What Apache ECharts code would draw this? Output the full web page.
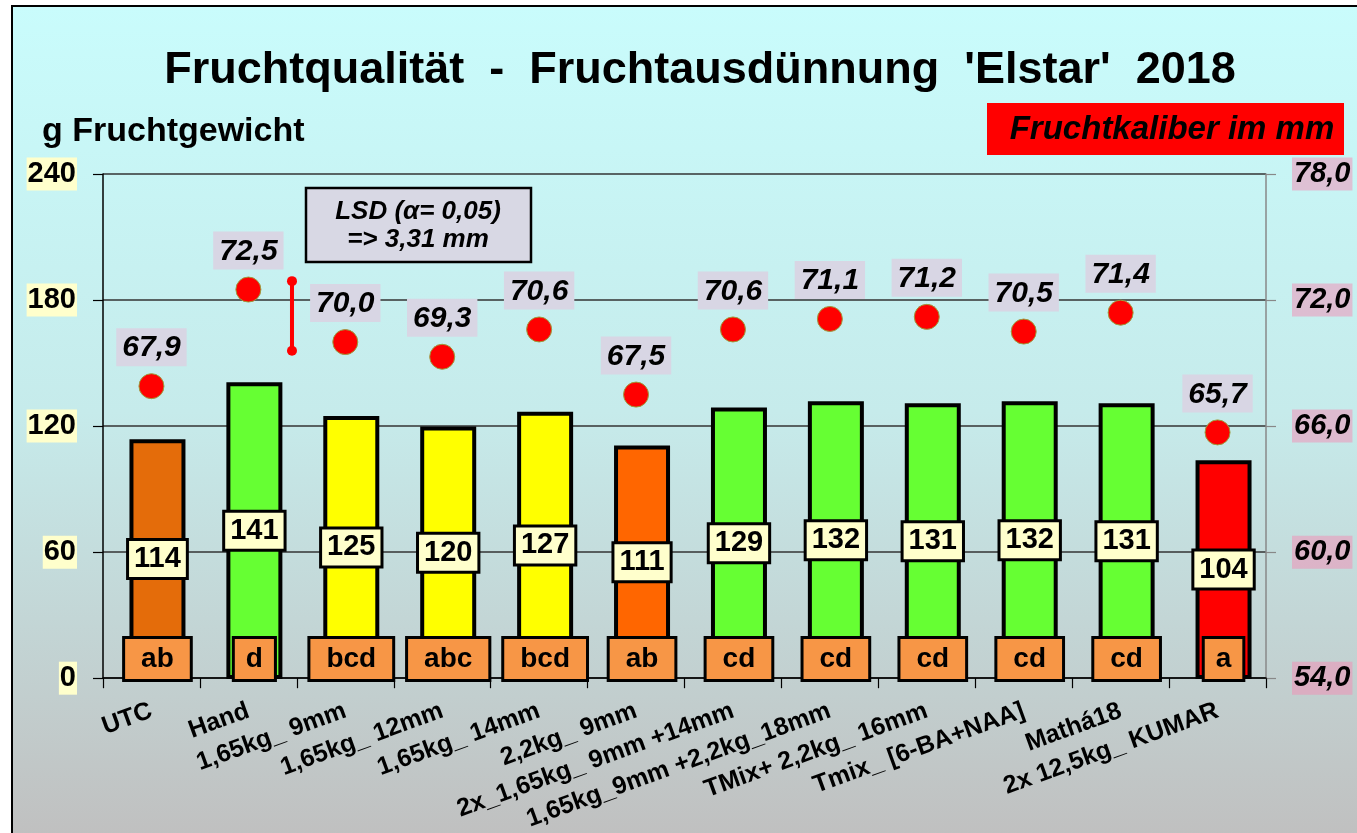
<!DOCTYPE html>
<html>
<head>
<meta charset="utf-8">
<script src="https://cdn.jsdelivr.net/npm/echarts@6/dist/echarts.min.js"></script>
<style>
html,body{margin:0;padding:0;background:#fff;}
#chart{width:1357px;height:833px;}
</style>
</head>
<body>
<div id="chart"></div>
<script>
const categories = ['UTC','Hand','1,65kg_ 9mm','1,65kg_ 12mm','1,65kg_ 14mm','2,2kg_ 9mm','2x_1,65kg_ 9mm +14mm','1,65kg_9mm +2,2kg_18mm','TMix+ 2,2kg_ 16mm','Tmix_ [6-BA+NAA]','Mathá18','2x 12,5kg_ KUMAR'];
const fruitWeight = [114,141,125,120,127,111,129,132,131,132,131,104];
const significance = ['ab','d','bcd','abc','bcd','ab','cd','cd','cd','cd','cd','a'];
const fruitCaliber = [67.9,72.5,70.0,69.3,70.6,67.5,70.6,71.1,71.2,70.5,71.4,65.7];
const weightTicks = {min:0, max:240, interval:60};
const caliberTicks = {min:54, max:78, interval:6};
const lsdValue = 3.31;
const lsdTop = 72.9;
const lsdPos = 1.95;
const barColors = ['#E46C0A','#66FF33','#FFFF00','#FFFF00','#FFFF00','#FF6600','#66FF33','#66FF33','#66FF33','#66FF33','#66FF33','#FF0000'];

const FF = '"Liberation Sans", Arial, sans-serif';
const comma = v => v.toFixed(1).replace('.', ',');

const chart = echarts.init(document.getElementById('chart'), null, {renderer:'canvas'});
const option = {
  animation: false,
  backgroundColor: '#ffffff',
  textStyle: {fontFamily: FF},
  graphic: [
    {type:'rect', z:-10, shape:{x:12,y:6,width:1400,height:900},
     style:{fill:{type:'linear',x:0,y:0,x2:0,y2:1,colorStops:[{offset:0,color:'#C9FCFC'},{offset:0.45,color:'#C6EBEB'},{offset:0.92,color:'#C0C0C0'},{offset:1,color:'#C0C0C0'}]}, stroke:'#000', lineWidth:2}},
    {type:'text', x:700, y:71, style:{text:"Fruchtqualität  -  Fruchtausdünnung  'Elstar'  2018", font:'bold 45px '+FF, fill:'#000', align:'center', verticalAlign:'middle'}},
    {type:'text', x:42, y:132, style:{text:'g Fruchtgewicht', font:'bold 34px '+FF, fill:'#000', align:'left', verticalAlign:'middle'}},
    {type:'rect', shape:{x:987,y:103,width:357,height:52}, style:{fill:'#FF0000'}},
    {type:'text', x:1172, y:130, style:{text:'Fruchtkaliber im mm', font:'italic bold 33px '+FF, fill:'#000', align:'center', verticalAlign:'middle'}},
    {type:'rect', shape:{x:306,y:188,width:225,height:74}, style:{fill:'#D8D8E4', stroke:'#000', lineWidth:2.5}},
    {type:'text', x:418, y:212, style:{text:'LSD (α= 0,05)', font:'italic bold 26px '+FF, fill:'#000', align:'center', verticalAlign:'middle'}},
    {type:'text', x:418, y:240, style:{text:'=> 3,31 mm', font:'italic bold 26px '+FF, fill:'#000', align:'center', verticalAlign:'middle'}}
  ],
  grid: [
    {left:103, right:91, top:174, bottom:154, containLabel:false},
    {left:109, right:85, top:174, bottom:154, containLabel:false}
  ],
  xAxis: [
    {type:'category', gridIndex:0, data:categories,
     axisLine:{lineStyle:{color:'#000', width:1.5}},
     axisTick:{show:true, length:10, lineStyle:{color:'#000', width:1.2}},
     axisLabel:{interval:0, rotate:20, fontSize:25, fontWeight:'bold', fontFamily:FF, color:'#000', margin:32}},
    {type:'value', gridIndex:0, min:0, max:categories.length, show:false},
    {type:'category', gridIndex:1, data:categories, show:false}
  ],
  yAxis: [
    {type:'value', gridIndex:0, min:weightTicks.min, max:weightTicks.max, interval:weightTicks.interval,
     axisLine:{show:true, lineStyle:{color:'#000', width:1.5}},
     axisTick:{show:true, length:10, lineStyle:{color:'#000', width:1.2}},
     splitLine:{show:true, lineStyle:{color:'#333', width:1.5}},
     axisLabel:{fontSize:29, fontWeight:'bold', fontFamily:FF, color:'#000', backgroundColor:'#FFFFCC', padding:[3,1,1,1], margin:26}},
    {type:'value', gridIndex:0, position:'right', min:caliberTicks.min, max:caliberTicks.max, interval:caliberTicks.interval,
     axisLine:{show:true, lineStyle:{color:'#888', width:1.5}},
     axisTick:{show:true, length:10, lineStyle:{color:'#888', width:1.2}},
     splitLine:{show:false},
     axisLabel:{formatter:comma, fontSize:29, fontWeight:'bold', fontStyle:'italic', fontFamily:FF, color:'#000', backgroundColor:'rgba(244,140,180,0.5)', padding:[3,2,1,2], margin:26}},
    {type:'value', gridIndex:1, min:weightTicks.min, max:weightTicks.max, interval:weightTicks.interval, show:false, splitLine:{show:false}}
  ],
  series: [
    {type:'bar', name:'Fruchtgewicht', xAxisIndex:2, yAxisIndex:2, barWidth:56,
     data: fruitWeight.map((v,i)=>({value:v, itemStyle:{color:barColors[i]}})),
     itemStyle:{borderColor:'#000', borderWidth:4},
     label:{show:true, position:'inside', formatter:p=>String(p.value), fontSize:29, fontWeight:'bold', fontFamily:FF, color:'#000',
            backgroundColor:'#FFFFCC', borderColor:'#000', borderWidth:3, padding:[5,5,2,5]}},
    {type:'bar', name:'Signifikanz', xAxisIndex:2, yAxisIndex:2, barWidth:56, barGap:'-100%', silent:true,
     data: fruitWeight.map((v,i)=>({value:v, label:{padding: significance[i].length===1 ? [6,11,6,11] : [6,16,6,16]}})),
     itemStyle:{color:'rgba(0,0,0,0)', borderWidth:0},
     label:{show:true, position:'insideBottom', distance:0, formatter:p=>significance[p.dataIndex], fontSize:28, fontWeight:'bold', fontFamily:FF, color:'#000',
            backgroundColor:'#F79646', borderColor:'#000', borderWidth:3}},
    {type:'scatter', name:'Fruchtkaliber', xAxisIndex:0, yAxisIndex:1, symbolSize:25, data:fruitCaliber, z:5,
     itemStyle:{color:'#FF0000', borderColor:'#9C9C3C', borderWidth:1, opacity:1},
     label:{show:true, position:'top', distance:7, formatter:p=>comma(p.value), fontSize:30, fontWeight:'bold', fontStyle:'italic', fontFamily:FF, color:'#000',
            backgroundColor:'#D8D6E4', padding:[5,6,3,6]}},
    {type:'line', name:'LSD', xAxisIndex:1, yAxisIndex:1, data:[[lsdPos, lsdTop],[lsdPos, lsdTop - lsdValue]],
     symbol:'circle', symbolSize:10, itemStyle:{color:'#FF0000'}, lineStyle:{color:'#FF0000', width:4}, silent:true}
  ]
};
chart.setOption(option);
</script>
</body>
</html>
